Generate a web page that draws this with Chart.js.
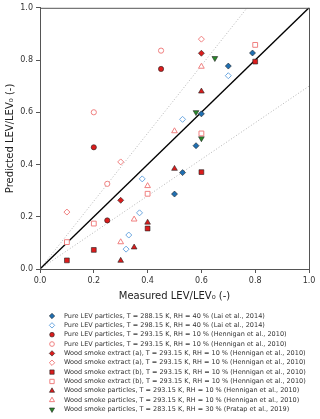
<!DOCTYPE html>
<html>
<head>
<meta charset="utf-8">
<script src="https://cdn.jsdelivr.net/npm/chart.js@4.4.1/dist/chart.umd.min.js"></script>
<style>
  html, body { margin: 0; padding: 0; background: #fff; }
</style>
</head>
<body>
<canvas id="levChart" width="320" height="419"></canvas>
<script>
// measured vs predicted LEV/LEV0
const pureLev288 = [[0.50, 0.287], [0.53, 0.369], [0.58, 0.472], [0.60, 0.594], [0.70, 0.777], [0.79, 0.827]];
const pureLev298 = [[0.32, 0.076], [0.33, 0.130], [0.37, 0.215], [0.38, 0.345], [0.53, 0.573], [0.70, 0.740]];
const pureLevHennFilled = [[0.20, 0.466], [0.25, 0.186], [0.45, 0.766]];
const pureLevHennOpen = [[0.20, 0.600], [0.25, 0.326], [0.45, 0.836]];
const extractAFilled = [[0.30, 0.263], [0.60, 0.826]];
const extractAOpen = [[0.10, 0.218], [0.30, 0.410], [0.60, 0.880]];
const extractBFilled = [[0.10, 0.033], [0.20, 0.073], [0.40, 0.155], [0.60, 0.371], [0.80, 0.794]];
const extractBOpen = [[0.10, 0.103], [0.20, 0.174], [0.40, 0.288], [0.60, 0.519], [0.80, 0.858]];
const smokeFilled = [[0.30, 0.032], [0.35, 0.083], [0.40, 0.178], [0.50, 0.384], [0.60, 0.680]];
const smokeOpen = [[0.30, 0.103], [0.35, 0.190], [0.40, 0.318], [0.50, 0.528], [0.60, 0.775]];
const smokePratap = [[0.58, 0.600], [0.60, 0.500], [0.65, 0.807]];

// 1:1 line and the two dotted guide lines (end points)
const oneToOne = [[0, 0], [1, 1]];
const upperGuide = [[0, 0], [0.77, 1.0]];
const lowerGuide = [[0, 0], [1.0, 0.70]];

const legendLabels = [
    'Pure LEV particles, T = 288.15 K, RH = 40 % (Lai et al., 2014)',
    'Pure LEV particles, T = 298.15 K, RH = 40 % (Lai et al., 2014)',
    'Pure LEV particles, T = 293.15 K, RH = 10 % (Hennigan et al., 2010)',
    'Pure LEV particles, T = 293.15 K, RH = 10 % (Hennigan et al., 2010)',
    'Wood smoke extract (a), T = 293.15 K, RH = 10 % (Hennigan et al., 2010)',
    'Wood smoke extract (a), T = 293.15 K, RH = 10 % (Hennigan et al., 2010)',
    'Wood smoke extract (b), T = 293.15 K, RH = 10 % (Hennigan et al., 2010)',
    'Wood smoke extract (b), T = 293.15 K, RH = 10 % (Hennigan et al., 2010)',
    'Wood smoke particles, T = 293.15 K, RH = 10 % (Hennigan et al., 2010)',
    'Wood smoke particles, T = 293.15 K, RH = 10 % (Hennigan et al., 2010)',
    'Wood smoke particles, T = 283.15 K, RH = 30 % (Pratap et al., 2019)'
];

const xyPoints = arr => arr.map(p => ({ x: p[0], y: p[1] }));

const blue = '#1f6fb2', lightBlue = '#6ea8e0', red = '#dc1c1c', pink = '#f08080', green = '#2a8a2a', edge = '#222';

function markers(data, label, style, filled, color, radius, rotation) {
    return {
        label: label,
        data: xyPoints(data),
        pointStyle: style,
        rotation: rotation || 0,
        pointRadius: radius,
        pointHoverRadius: radius,
        pointBackgroundColor: filled ? color : '#fff',
        pointBorderColor: filled ? edge : color,
        pointBorderWidth: filled ? 0.6 : 1,
        showLine: false,
        order: 1
    };
}

function guide(data, color, dash) {
    return {
        data: xyPoints(data),
        showLine: true,
        borderColor: color,
        borderWidth: dash ? 1 : 1.3,
        borderDash: dash || [],
        pointRadius: 0,
        fill: false,
        order: 20
    };
}

const seriesSets = [
    markers(pureLev288, legendLabels[0], 'rectRot', true, blue, 3),
    markers(pureLev298, legendLabels[1], 'rectRot', false, lightBlue, 3),
    markers(pureLevHennFilled, legendLabels[2], 'circle', true, red, 2.6),
    markers(pureLevHennOpen, legendLabels[3], 'circle', false, pink, 2.6),
    markers(extractAFilled, legendLabels[4], 'rectRot', true, red, 3),
    markers(extractAOpen, legendLabels[5], 'rectRot', false, pink, 3),
    markers(extractBFilled, legendLabels[6], 'rect', true, red, 3.4),
    markers(extractBOpen, legendLabels[7], 'rect', false, pink, 3.4),
    markers(smokeFilled, legendLabels[8], 'triangle', true, red, 3.3),
    markers(smokeOpen, legendLabels[9], 'triangle', false, pink, 3.3),
    markers(smokePratap, legendLabels[10], 'triangle', true, green, 3.3, 180)
];

// frame around the plot + legend below, drawn like matplotlib
const framePlugin = {
    id: 'frame',
    afterDraw(chart) {
        const ctx = chart.ctx;
        const a = chart.chartArea;
        ctx.save();
        ctx.strokeStyle = '#555';
        ctx.lineWidth = 1;
        ctx.strokeRect(a.left + 0.5, a.top + 0.5, a.right - a.left, a.bottom - a.top);

        const drawPoint = Chart.helpers && Chart.helpers.drawPoint;
        ctx.font = '6.5px "DejaVu Sans"';
        ctx.textBaseline = 'middle';
        ctx.textAlign = 'left';
        seriesSets.forEach((ds, i) => {
            const y = 316 + i * 9.35;
            ctx.fillStyle = ds.pointBackgroundColor;
            ctx.strokeStyle = ds.pointBorderColor;
            ctx.lineWidth = ds.pointBorderWidth;
            if (drawPoint) {
                drawPoint(ctx, { pointStyle: ds.pointStyle, rotation: ds.rotation, radius: ds.pointRadius * 0.9, borderWidth: ds.pointBorderWidth }, 52, y);
            }
            ctx.fillStyle = '#333';
            ctx.fillText(ds.label, 64, y);
        });
        ctx.restore();
    }
};

const ctx = document.getElementById('levChart').getContext('2d');

const levChart = new Chart(ctx, {
    type: 'scatter',
    data: {
        datasets: seriesSets.concat([
            guide(oneToOne, '#000'),
            guide(upperGuide, '#b5b5b5', [1, 2]),
            guide(lowerGuide, '#b5b5b5', [1, 2])
        ])
    },
    options: {
        responsive: false,
        animation: false,
        devicePixelRatio: 1,
        layout: { padding: { top: 7, right: 11, bottom: 116, left: 0 } },
        plugins: {
            legend: { display: false },
            tooltip: { enabled: false }
        },
        scales: {
            x: {
                type: 'linear',
                min: 0,
                max: 1,
                ticks: {
                    stepSize: 0.2,
                    callback: v => v.toFixed(1),
                    font: { family: 'DejaVu Sans', size: 8 },
                    color: '#333',
                    padding: 3
                },
                grid: { drawOnChartArea: false, tickLength: 4, color: '#555' },
                border: { color: '#555' },
                title: {
                    display: true,
                    text: 'Measured LEV/LEV\u2080 (-)',
                    font: { family: 'DejaVu Sans', size: 10 },
                    color: '#222',
                    padding: { top: 2, bottom: 1 }
                },
                afterFit: scale => { scale.height = 34; }
            },
            y: {
                type: 'linear',
                min: 0,
                max: 1,
                ticks: {
                    stepSize: 0.2,
                    callback: v => v.toFixed(1),
                    font: { family: 'DejaVu Sans', size: 8 },
                    color: '#333',
                    padding: 3
                },
                grid: { drawOnChartArea: false, tickLength: 4, color: '#555' },
                border: { color: '#555' },
                title: {
                    display: true,
                    text: 'Predicted LEV/LEV\u2080 (-)',
                    font: { family: 'DejaVu Sans', size: 10 },
                    color: '#222',
                    padding: { top: 4, bottom: 2 }
                },
                afterFit: scale => { scale.width = 40; }
            }
        }
    },
    plugins: [framePlugin]
});
</script>
</body>
</html>
